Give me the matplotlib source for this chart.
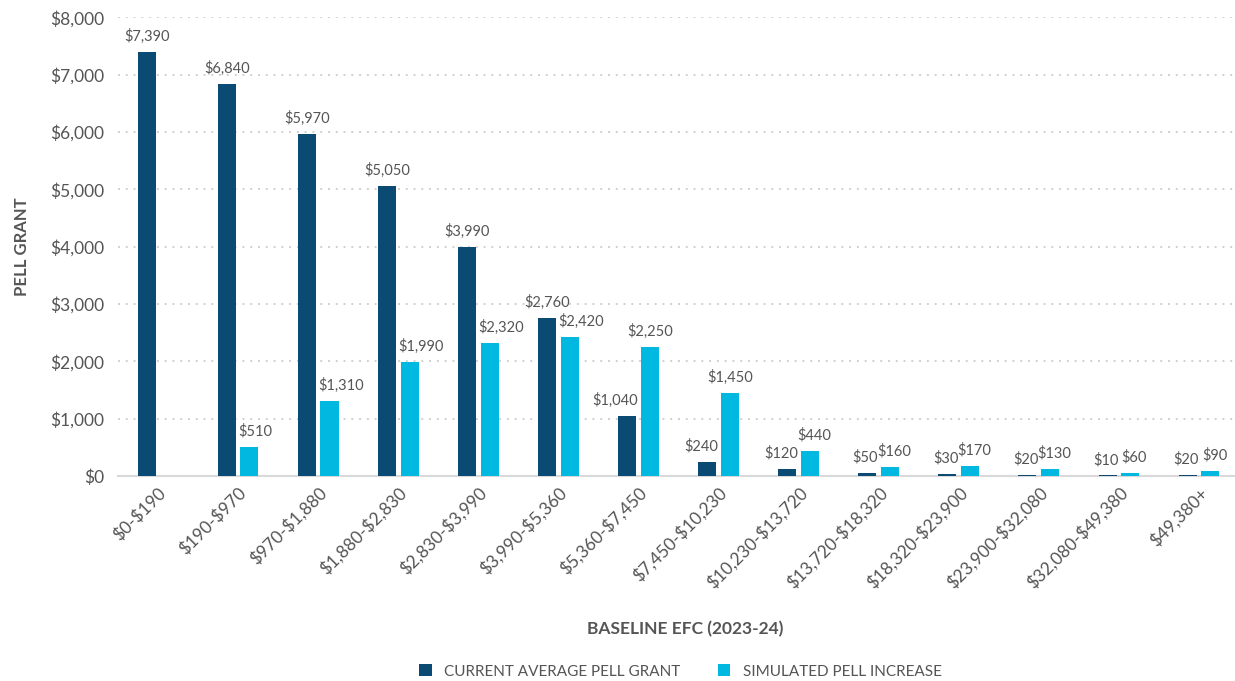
import matplotlib.pyplot as plt
import numpy as np

# datos
categorias = ["$0-$190", "$190-$970", "$970-$1,880", "$1,880-$2,830", "$2,830-$3,990",
              "$3,990-$5,360", "$5,360-$7,450", "$7,450-$10,230", "$10,230-$13,720",
              "$13,720-$18,320", "$18,320-$23,900", "$23,900-$32,080", "$32,080-$49,380",
              "$49,380+"]
pell_actual = [7390, 6840, 5970, 5050, 3990, 2760, 1040, 240, 120, 50, 30, 20, 10, 20]
pell_simulado = [0, 510, 1310, 1990, 2320, 2420, 2250, 1450, 440, 160, 170, 130, 60, 90]
yticks = [0, 1000, 2000, 3000, 4000, 5000, 6000, 7000, 8000]

AZUL_OSCURO = "#0b4a72"
AZUL_CLARO = "#00b8e0"
GRIS_TEXTO = "#555555"

plt.rcParams["font.family"] = ["Lato", "DejaVu Sans"]
plt.rcParams["text.parse_math"] = False

fig = plt.figure(figsize=(12.35, 6.81), dpi=100)
ax = fig.add_axes([0.0955, 0.301, 0.9045, 0.6735])

x = np.arange(len(categorias))
w = 0.225
off = 0.142

b1 = ax.bar(x - off, pell_actual, w, color=AZUL_OSCURO, label="CURRENT AVERAGE PELL GRANT", zorder=3)
b2 = ax.bar(x + off, pell_simulado, w, color=AZUL_CLARO, label="SIMULATED PELL INCREASE", zorder=3)

# etiquetas: la etiqueta de la barra más baja se corre para no tapar a la otra barra
kw = dict(textcoords="offset points", va="bottom", fontsize=10.5, color=GRIS_TEXTO)
for r1, r2, v1, v2 in zip(b1, b2, pell_actual, pell_simulado):
    if v2 > v1:
        ax.annotate(f"${v1:,}", (r2.get_x(), v1), xytext=(-2, 6), ha="right", **kw)
    else:
        ax.annotate(f"${v1:,}", (r1.get_x() + r1.get_width() / 2, v1), xytext=(0, 6),
                    ha="center", **kw)
    if v2 == 0:
        continue
    if v1 > v2:
        ax.annotate(f"${v2:,}", (r1.get_x() + r1.get_width(), v2), xytext=(2, 6),
                    ha="left", **kw)
    else:
        sep = 3 if v2 < 500 else 0
        ax.annotate(f"${v2:,}", (r2.get_x() + r2.get_width() / 2, v2), xytext=(sep, 6),
                    ha="center", **kw)

ax.set_xlim(-0.5, 13.45)
ax.set_ylim(0, 8000)
ax.set_yticks(yticks)
ax.set_yticklabels([f"${t:,}" for t in yticks], fontsize=12.5, color=GRIS_TEXTO)
ax.set_xticks(x)
ax.set_xticklabels(categorias, rotation=45, ha="right", rotation_mode="anchor",
                   fontsize=12.5, color=GRIS_TEXTO)
ax.tick_params(axis="both", length=0)
ax.tick_params(axis="y", pad=10)
ax.tick_params(axis="x", pad=6)

ax.grid(axis="y", linestyle=(0, (1, 3)), color="#d0d0d0", linewidth=1.4, zorder=0)
for s in ["top", "right", "left"]:
    ax.spines[s].set_visible(False)
ax.spines["bottom"].set_color("#d9d9d9")
ax.spines["bottom"].set_linewidth(1.5)

ax.set_ylabel("PELL GRANT", fontsize=12, fontweight="bold", color=GRIS_TEXTO, labelpad=14)
fig.text(0.555, 1 - 629 / 681, "BASELINE EFC (2023-24)", ha="center", va="center",
         fontsize=12.5, fontweight="bold", color=GRIS_TEXTO)

leg = fig.legend(handles=[b1, b2], loc="center", bbox_to_anchor=(0.551, 0.014), ncol=2,
                 frameon=False, fontsize=11, handlelength=0.8, handleheight=0.8,
                 columnspacing=2.5, handletextpad=0.8)
for t in leg.get_texts():
    t.set_color(GRIS_TEXTO)

fig.savefig("out.png", dpi=100)
